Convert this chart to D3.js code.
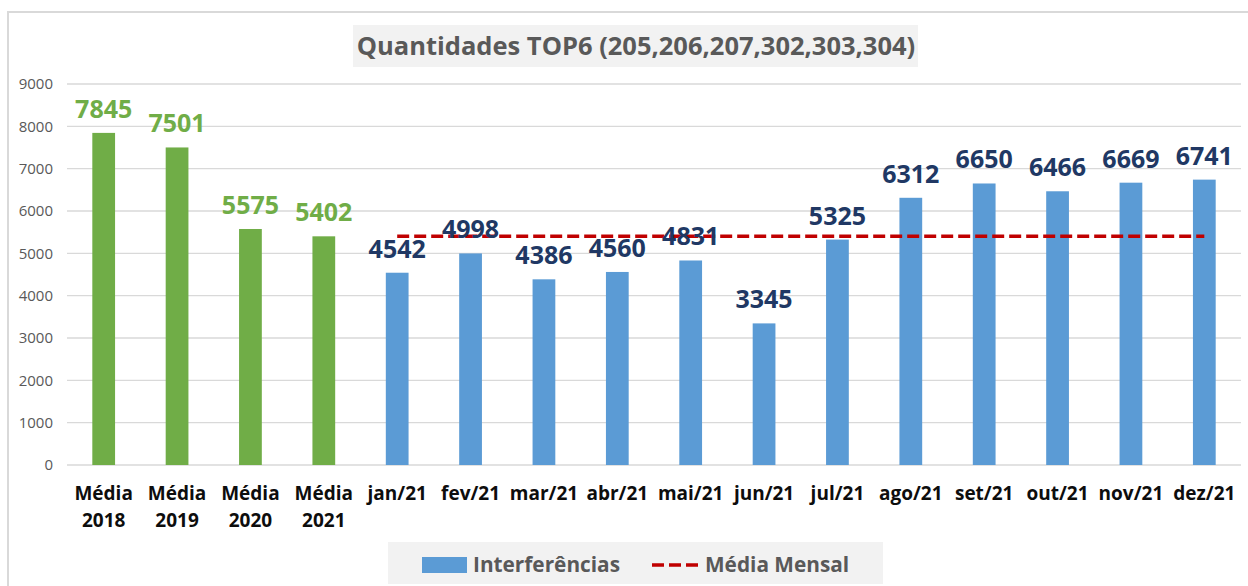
<!DOCTYPE html>
<html>
<head>
<meta charset="utf-8">
<script src="https://cdn.jsdelivr.net/npm/d3@7"></script>
<style>
  body { margin: 0; background: #fff; }
  svg { display: block; font-family: "Open Sans", "Liberation Sans", sans-serif; }
</style>
</head>
<body>
<svg width="1248" height="586"></svg>
<script>
// chart data
const categories = ["Média\n2018", "Média\n2019", "Média\n2020", "Média\n2021",
    "jan/21", "fev/21", "mar/21", "abr/21", "mai/21", "jun/21",
    "jul/21", "ago/21", "set/21", "out/21", "nov/21", "dez/21"];
const values = [7845, 7501, 5575, 5402, 4542, 4998, 4386, 4560, 4831, 3345,
    5325, 6312, 6650, 6466, 6669, 6741];
const isAverage = [true, true, true, true, false, false, false, false, false, false,
    false, false, false, false, false, false];
const mediaMensal = 5402;
const yTicks = [0, 1000, 2000, 3000, 4000, 5000, 6000, 7000, 8000, 9000];
const title = "Quantidades TOP6 (205,206,207,302,303,304)";
const legendItems = ["Interferências", "Média Mensal"];

const svg = d3.select("svg");

const x = d3.scaleBand()
    .domain(categories)
    .range([67, 1241])
    .paddingInner(0.69)
    .paddingOuter(0.345);

const y = d3.scaleLinear()
    .domain([0, 9000])
    .range([465, 84]);

// outer border
svg.append("rect")
    .attr("x", 8).attr("y", 12)
    .attr("width", 1260).attr("height", 600)
    .attr("fill", "none")
    .attr("stroke", "#d9d9d9")
    .attr("stroke-width", 2);

// title
const titleG = svg.append("g");
titleG.append("rect")
    .attr("x", 353).attr("y", 25)
    .attr("width", 565).attr("height", 42)
    .attr("fill", "#f2f2f2");
titleG.append("text")
    .attr("x", 636).attr("y", 55)
    .attr("text-anchor", "middle")
    .attr("fill", "#595959")
    .attr("font-weight", "bold")
    .attr("font-size", 25.5)
    .text(title);

// gridlines
svg.append("g")
    .selectAll("line")
    .data(yTicks)
    .join("line")
    .attr("x1", 67).attr("x2", 1241)
    .attr("y1", d => y(d)).attr("y2", d => y(d))
    .attr("stroke", "#d9d9d9")
    .attr("stroke-width", 1.3);

// y axis labels
svg.append("g")
    .selectAll("text")
    .data(yTicks)
    .join("text")
    .attr("x", 53)
    .attr("y", d => y(d))
    .attr("dy", "0.35em")
    .attr("text-anchor", "end")
    .attr("fill", "#595959")
    .attr("font-size", 15)
    .text(d => d);

// bars
svg.append("g")
    .selectAll("rect")
    .data(values)
    .join("rect")
    .attr("x", (d, i) => x(categories[i]))
    .attr("width", x.bandwidth())
    .attr("y", d => y(d))
    .attr("height", d => y(0) - y(d))
    .attr("fill", (d, i) => isAverage[i] ? "#70ad47" : "#5b9bd5");

// monthly average line (jan -> dez)
const months = categories.filter((c, i) => !isAverage[i]);
svg.append("line")
    .attr("x1", x(months[0]) + x.bandwidth() / 2)
    .attr("x2", x(months[months.length - 1]) + x.bandwidth() / 2)
    .attr("y1", y(mediaMensal)).attr("y2", y(mediaMensal))
    .attr("stroke", "#c00000")
    .attr("stroke-width", 3.5)
    .attr("stroke-dasharray", "12,5");

// value labels
svg.append("g")
    .selectAll("text")
    .data(values)
    .join("text")
    .attr("x", (d, i) => x(categories[i]) + x.bandwidth() / 2)
    .attr("y", d => y(d) - 15)
    .attr("text-anchor", "middle")
    .attr("font-weight", "bold")
    .attr("font-size", 25)
    .attr("fill", (d, i) => isAverage[i] ? "#70ad47" : "#203864")
    .text(d => d);

// category labels
svg.append("g")
    .selectAll("text")
    .data(categories)
    .join("text")
    .attr("x", d => x(d) + x.bandwidth() / 2)
    .attr("y", 500)
    .attr("text-anchor", "middle")
    .attr("font-weight", "bold")
    .attr("font-size", 19)
    .attr("fill", "#0d0d0d")
    .each(function(d) {
        const lines = d.split("\n");
        d3.select(this).selectAll("tspan")
            .data(lines)
            .join("tspan")
            .attr("x", x(d) + x.bandwidth() / 2)
            .attr("dy", (l, j) => j === 0 ? 0 : 27)
            .text(l => l);
    });

// legend
const legend = svg.append("g");
legend.append("rect")
    .attr("x", 388).attr("y", 542)
    .attr("width", 495).attr("height", 42)
    .attr("fill", "#f2f2f2");
legend.append("rect")
    .attr("x", 422).attr("y", 557)
    .attr("width", 45).attr("height", 16)
    .attr("fill", "#5b9bd5");
legend.append("text")
    .attr("x", 473).attr("y", 572)
    .attr("fill", "#595959")
    .attr("font-weight", "bold")
    .attr("font-size", 20.8)
    .text(legendItems[0]);
legend.append("line")
    .attr("x1", 652).attr("x2", 700)
    .attr("y1", 565).attr("y2", 565)
    .attr("stroke", "#c00000")
    .attr("stroke-width", 3.5)
    .attr("stroke-dasharray", "12,5");
legend.append("text")
    .attr("x", 705).attr("y", 572)
    .attr("fill", "#595959")
    .attr("font-weight", "bold")
    .attr("font-size", 20.8)
    .text(legendItems[1]);
</script>
</body>
</html>
